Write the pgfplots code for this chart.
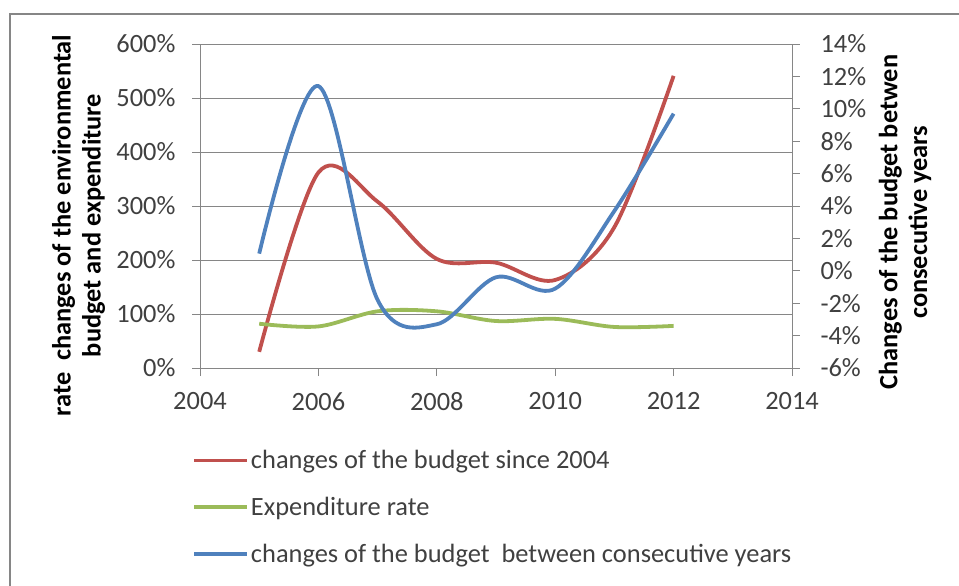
\documentclass[border=0pt]{standalone}
\usepackage{fontspec}
\setmainfont{Carlito}
\usepackage{pgfplots}
\pgfplotsset{compat=1.18}
\definecolor{cred}{HTML}{C0504D}
\definecolor{cgreen}{HTML}{9BBB59}
\definecolor{cblue}{HTML}{4F81BD}
\definecolor{axgray}{HTML}{868686}
\definecolor{tickgray}{HTML}{404040}
\begin{document}
\begin{tikzpicture}
\useasboundingbox (0,0) rectangle (959bp,-586bp);
\draw[axgray, line width=2bp] (10bp,-586bp) -- (10bp,-14bp) -- (959bp,-14bp);
\pgfplotsset{common/.style={
  at={(200bp,-368bp)}, anchor=south west, scale only axis,
  width=592bp, height=324bp,
  xmin=2004, xmax=2014,
  font=\fontsize{26.5}{31}\selectfont,
  /pgf/number format/assume math mode=true,
  tick align=outside, major tick length=8bp,
  every tick/.style={axgray, line width=1bp},
  axis line style={axgray, line width=1bp},
  tick label style={tickgray},
  every axis y label/.style={rotate=90, anchor=center, align=center,
     font=\bfseries\fontsize{26.5}{30}\selectfont, black},
}}
\begin{axis}[common,
  axis x line*=bottom, axis y line*=left,
  ymin=0, ymax=600, ytick={0,100,...,600},
  yticklabel={\pgfmathprintnumber{\tick}\%},
  yticklabel style={xshift=-13bp},
  xtick={2004,2006,...,2014},
  xticklabel style={/pgf/number format/1000 sep={}, yshift=-13bp},
  ymajorgrids, grid style={axgray, line width=1bp},
  ylabel={rate\ \ changes of the environmental\\budget and expenditure},
  ylabel style={at={(axis description cs:-0.205,0.44)}},
  legend style={at={(axis description cs:-0.0135,-0.248)}, anchor=north west,
    draw=none, fill=none, inner sep=0pt, row sep=23bp,
    font=\fontsize{26.5}{31}\selectfont, text=tickgray},
  legend cell align=left,
  legend image code/.code={\draw[#1] (0bp,0bp) -- (53bp,0bp);},
]
\addplot[cred, line width=3.8bp, smooth, tension=0.55] coordinates {
  (2005,30) (2006,362) (2007,308) (2008,202) (2009,195) (2010,163) (2011,261) (2012,541)};
\addlegendentry{changes of the budget since 2004}
\addplot[cgreen, line width=3.8bp, smooth, tension=0.55] coordinates {
  (2005,82) (2006,77) (2007,105) (2008,105) (2009,87) (2010,91) (2011,76) (2012,78)};
\addlegendentry{Expenditure rate}
\addlegendimage{cblue, line width=3.8bp}
\addlegendentry{changes of the budget\ \ between consecutive years}
\end{axis}
\begin{axis}[common,
  axis x line=none, axis y line*=right,
  ymin=-6, ymax=14, ytick={-6,-4,...,14},
  yticklabel={\pgfmathprintnumber{\tick}\%},
  yticklabel style={xshift=17bp},
  ylabel={Changes of the budget betwen\\consecutive years},
  ylabel style={at={(axis description cs:1.191,0.45)}},
]
\addplot[cblue, line width=3.8bp, smooth, tension=0.55] coordinates {
  (2005,1.06) (2006,11.4) (2007,-1.8) (2008,-3.3) (2009,-0.4) (2010,-1.1) (2011,3.7) (2012,9.7)};
\end{axis}
\end{tikzpicture}
\end{document}
